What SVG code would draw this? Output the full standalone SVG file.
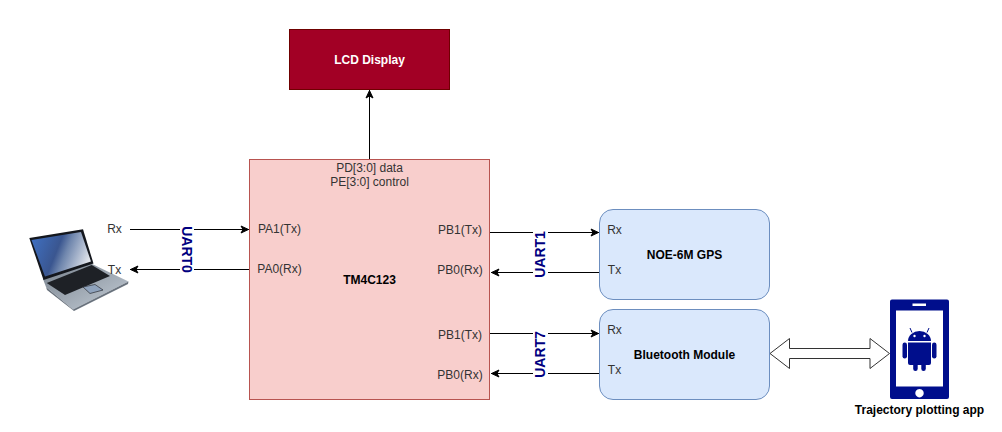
<svg xmlns="http://www.w3.org/2000/svg" width="1002" height="432" viewBox="0 0 1002 432">
<style>
text{font-family:"Liberation Sans",Arial,sans-serif;font-size:12px;fill:#333;text-anchor:middle}
.b{font-weight:bold;fill:#000}
.w{font-weight:bold;fill:#fff}
.u{font-weight:bold;fill:#000080;font-size:14px}
.c{stroke:#000;stroke-width:1;fill:none;marker-end:url(#a)}
.box{fill:#dae8fc;stroke:#6c8ebf}
.lb{fill:#fff;stroke:none}
</style>
<defs>
<marker id="a" markerUnits="userSpaceOnUse" markerWidth="14" markerHeight="14" refX="10" refY="7" orient="auto"><path d="M2 3.500L9.500 7L2 10.500L4 7Z" fill="#000" stroke="#000"/></marker>
<linearGradient id="scr" x1="0" y1="0.2" x2="1" y2="0.5"><stop offset="0" stop-color="#3f6fc0"/><stop offset="0.45" stop-color="#3a5690"/><stop offset="0.6" stop-color="#6f86ad"/><stop offset="1" stop-color="#dfe3ea"/></linearGradient>
<linearGradient id="bs" x1="0" y1="0" x2="1" y2="1"><stop offset="0" stop-color="#77818c"/><stop offset="1" stop-color="#c5ced8"/></linearGradient>
</defs>
<g id="connectors">
<path class="c" d="M369.5 159.5V90"/>
<path class="c" d="M130 229.5H249"/>
<path class="c" d="M249.5 269.5H130"/>
<path class="c" d="M489.5 232.5H599"/>
<path class="c" d="M599.5 272.5H491"/>
<path class="c" d="M489.5 333.5H599"/>
<path class="c" d="M599.5 373.5H491"/>
<path id="bidir" d="M770 353.5L789.5 338.5V348.5H870V338.5L889.5 353.5L870 368.5V358.5H789.5V368.5Z" fill="#fff" stroke="#333"/>
</g>
<g id="labels">
<rect class="lb" x="180" y="226" width="14" height="47"/>
<text class="u" transform="translate(182 249.5) rotate(90)">UART0</text>
<rect class="lb" x="533" y="231" width="15" height="47"/>
<text class="u" transform="translate(545 254.5) rotate(-90)">UART1</text>
<rect class="lb" x="533" y="331" width="15" height="47"/>
<text class="u" transform="translate(545 354.5) rotate(-90)">UART7</text>
</g>
<g id="lcd"><rect x="289.5" y="29.5" width="160" height="60" fill="#a20025" stroke="#6f0000"/><text class="w" x="369.5" y="64">LCD Display</text></g>
<g id="mcu"><rect x="249.5" y="159.5" width="240" height="240" fill="#f8cecc" stroke="#b85450"/>
<text x="369.5" y="171.500">PD[3:0] data</text><text x="369.5" y="186">PE[3:0] control</text>
<text class="b" x="369.500" y="284">TM4C123</text>
<text x="279.500" y="233">PA1(Tx)</text><text x="279.500" y="273">PA0(Rx)</text>
<text x="460" y="234">PB1(Tx)</text><text x="460" y="274">PB0(Rx)</text>
<text x="460" y="339">PB1(Tx)</text><text x="460" y="379">PB0(Rx)</text></g>
<g id="gps"><rect class="box" x="599.5" y="209.5" width="170" height="90" rx="13.5"/>
<text class="b" x="684.5" y="259">NOE-6M GPS</text><text x="614.5" y="234">Rx</text><text x="614.500" y="274">Tx</text></g>
<g id="bluetooth"><rect class="box" x="599.5" y="309.5" width="170" height="90" rx="13.5"/>
<text class="b" x="684.5" y="359">Bluetooth Module</text><text x="614.500" y="334">Rx</text><text x="614.500" y="374">Tx</text></g>
<g id="laptop">
<path d="M46 287L43 279L90 263L128.500 281.500L73 309.500Z" fill="url(#bs)"/>
<path d="M29.300 238L83 229.300L93.500 263.500L43.500 280Z" fill="#14171d"/>
<path d="M31.500 240L81 232L91 261.500L45 276.500Z" fill="url(#scr)"/>
<path d="M46.700 283L91.700 265L110 276L65 295Z" fill="#1e2126"/>
<path d="M83 287L95 284.500L103 290L90 293.500Z" fill="#8fa3bd" stroke="#2a2d33" stroke-width=".7"/>
<path d="M46 287L73 309.500L128.500 281.500L128 284L74 311L47 290Z" fill="#69727d"/>
<text x="114.500" y="233">Rx</text><text x="114.500" y="273.500">Tx</text>
</g>
<g id="phone" fill="#000e8c">
<path fill-rule="evenodd" d="M892 299.500H947a2 2 0 0 1 2 2V397a2 2 0 0 1-2 2H892a2 2 0 0 1-2-2V301.500a2 2 0 0 1 2-2ZM896 310.500V386.500H943V310.500ZM912.500 303.500V306H926V303.500ZM919.500 389a4.200 4.200 0 1 0 .01 0Z"/>
<path d="M908 341a11.500 10 0 0 1 23 0Z"/><path d="M912 332.500L910 328M927 332.500L929 328" stroke="#000e8c" stroke-width="1"/>
<circle cx="914.500" cy="336" r="1.200" fill="#fff"/><circle cx="924.500" cy="336" r="1.200" fill="#fff"/>
<path d="M908 342.500H931V363a2 2 0 0 1-2 2H910a2 2 0 0 1-2-2Z"/>
<rect x="902.500" y="342.500" width="4.500" height="16" rx="2.200"/><rect x="932" y="342.500" width="4.500" height="16" rx="2.200"/>
<rect x="913.200" y="362" width="4.500" height="9" rx="2.200"/><rect x="921.300" y="362" width="4.500" height="9" rx="2.200"/>
<text class="b" x="919.500" y="414" style="fill:#000">Trajectory plotting app</text>
</g>
</svg>
